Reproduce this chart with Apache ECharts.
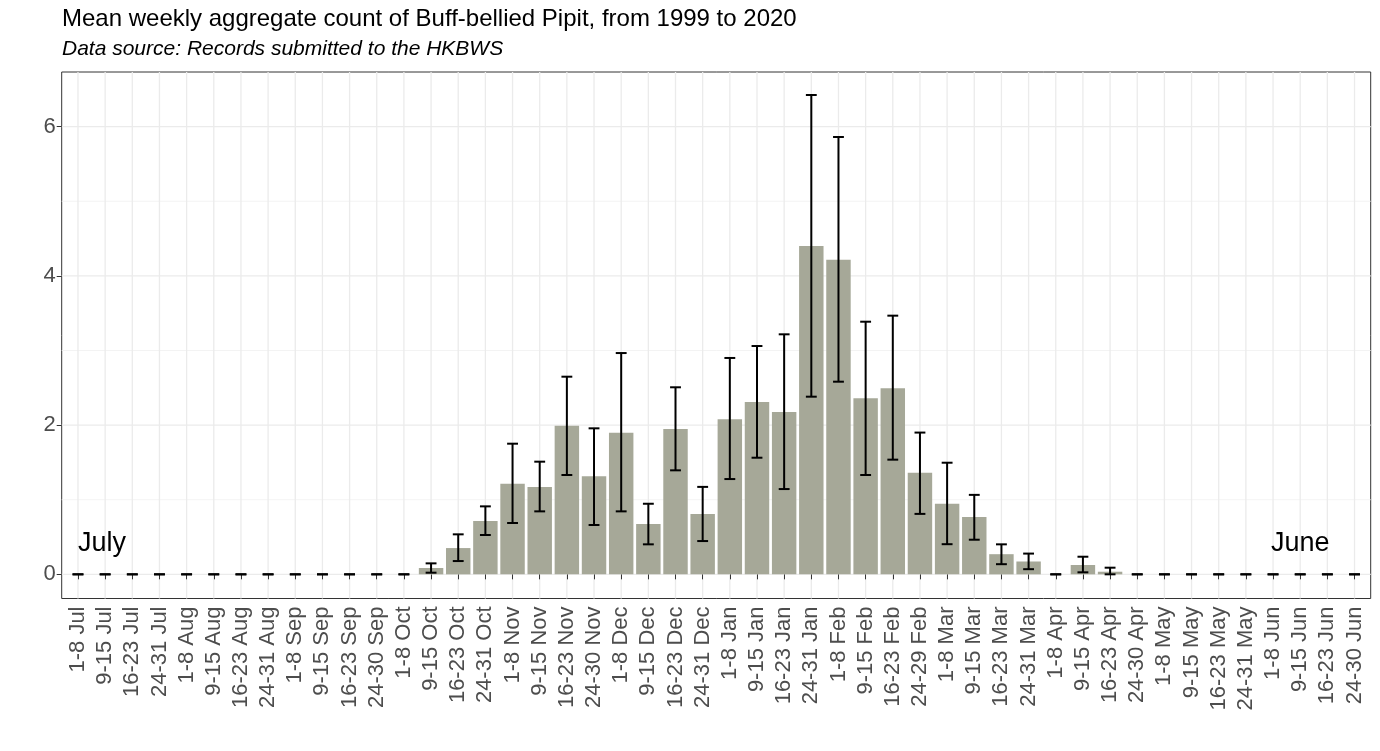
<!DOCTYPE html>
<html>
<head>
<meta charset="utf-8">
<script src="https://cdn.jsdelivr.net/npm/echarts@6/dist/echarts.min.js"></script>
<style>
html,body{margin:0;padding:0;background:#ffffff;}
#c{width:1380px;height:751px;}
</style>
</head>
<body>
<div id="c"></div>
<script>
// ---------- DATA ----------
const chartTitle = 'Mean weekly aggregate count of Buff-bellied Pipit, from 1999 to 2020';
const chartSubtitle = 'Data source: Records submitted to the HKBWS';

const categories = [
  '1-8 Jul','9-15 Jul','16-23 Jul','24-31 Jul',
  '1-8 Aug','9-15 Aug','16-23 Aug','24-31 Aug',
  '1-8 Sep','9-15 Sep','16-23 Sep','24-30 Sep',
  '1-8 Oct','9-15 Oct','16-23 Oct','24-31 Oct',
  '1-8 Nov','9-15 Nov','16-23 Nov','24-30 Nov',
  '1-8 Dec','9-15 Dec','16-23 Dec','24-31 Dec',
  '1-8 Jan','9-15 Jan','16-23 Jan','24-31 Jan',
  '1-8 Feb','9-15 Feb','16-23 Feb','24-29 Feb',
  '1-8 Mar','9-15 Mar','16-23 Mar','24-31 Mar',
  '1-8 Apr','9-15 Apr','16-23 Apr','24-30 Apr',
  '1-8 May','9-15 May','16-23 May','24-31 May',
  '1-8 Jun','9-15 Jun','16-23 Jun','24-30 Jun'
];

const meanCounts = [
  0, 0, 0, 0,
  0, 0, 0, 0,
  0, 0, 0, 0,
  0, 0.085, 0.352, 0.714,
  1.215, 1.170, 1.992, 1.313,
  1.898, 0.674, 1.948, 0.808,
  2.080, 2.310, 2.175, 4.400,
  4.217, 2.359, 2.493, 1.360,
  0.947, 0.768, 0.270, 0.172,
  0, 0.125, 0.035, 0,
  0, 0, 0, 0,
  0, 0, 0, 0
];

const lowerBounds = [
  0, 0, 0, 0,
  0, 0, 0, 0,
  0, 0, 0, 0,
  0, 0.022, 0.178, 0.527,
  0.688, 0.844, 1.331, 0.661,
  0.844, 0.402, 1.394, 0.446,
  1.277, 1.563, 1.143, 2.381,
  2.582, 1.331, 1.537, 0.810,
  0.404, 0.464, 0.136, 0.069,
  0, 0.027, 0, 0,
  0, 0, 0, 0,
  0, 0, 0, 0
];

const upperBounds = [
  0, 0, 0, 0,
  0, 0, 0, 0,
  0, 0, 0, 0,
  0, 0.147, 0.536, 0.911,
  1.751, 1.510, 2.649, 1.957,
  2.966, 0.946, 2.507, 1.172,
  2.900, 3.060, 3.217, 6.425,
  5.862, 3.386, 3.467, 1.900,
  1.496, 1.065, 0.402, 0.278,
  0, 0.236, 0.089, 0,
  0, 0, 0, 0,
  0, 0, 0, 0
];

const yMajorTicks = [0, 2, 4, 6];
const yMinorTicks = [1, 3, 5];

const annotationTexts = ['July', 'June'];
const annotationCategories = ['1-8 Jul', '9-15 Jun'];
const annotationValues = [0.41, 0.41];
const annotationAligns = ['left', 'center'];

// ---------- CHART ----------
const FONT = "'Liberation Sans', Arial, Helvetica, sans-serif";
const Y_MIN = -0.324;
const Y_MAX = 6.733;

const chart = echarts.init(document.getElementById('c'), null, { renderer: 'canvas' });

const gridLineData = yMajorTicks.map(v => [0, v, 1]).concat(yMinorTicks.map(v => [0, v, 0]));
const vGridData = categories.map((c, i) => [i]);
const errData = categories.map((c, i) => [i, lowerBounds[i], upperBounds[i]]);
const annData = annotationTexts.map((t, i) => [categories.indexOf(annotationCategories[i]), annotationValues[i], i]);

const option = {
  animation: false,
  backgroundColor: '#ffffff',
  title: [
    {
      text: chartTitle, left: 62, top: 7, padding: 0,
      textStyle: { fontFamily: FONT, fontSize: 24, fontWeight: 'normal', color: '#000000' }
    },
    {
      text: chartSubtitle, left: 62, top: 39, padding: 0,
      textStyle: { fontFamily: FONT, fontSize: 21, fontStyle: 'italic', fontWeight: 'normal', color: '#000000' }
    }
  ],
  grid: [
    { left: 64.4, right: 11.9, top: 72, bottom: 152.5, show: false, containLabel: false, outerBoundsMode: 'none' },
    { left: 61.7, right: 9.3, top: 72, bottom: 152.5, show: true, borderColor: '#333333', borderWidth: 1,
      backgroundColor: 'transparent', containLabel: false, outerBoundsMode: 'none' }
  ],
  xAxis: [
    {
      type: 'category', gridIndex: 0, data: categories, boundaryGap: true,
      axisLine: { show: false },
      axisTick: { show: true, alignWithLabel: true, length: 5, lineStyle: { color: '#333333', width: 1 } },
      axisLabel: { interval: 0, rotate: 90, margin: 8, fontSize: 22, color: '#4d4d4d', fontFamily: FONT },
      splitLine: { show: false }
    },
    { type: 'value', gridIndex: 1, min: 0, max: 1, show: false }
  ],
  yAxis: [
    { type: 'value', gridIndex: 0, min: Y_MIN, max: Y_MAX, show: false },
    {
      type: 'value', gridIndex: 1, min: Y_MIN, max: Y_MAX,
      axisLine: { show: false },
      axisTick: { show: true, length: 5, customValues: yMajorTicks, lineStyle: { color: '#333333', width: 1 } },
      axisLabel: { customValues: yMajorTicks, margin: 6, fontSize: 22, color: '#4d4d4d', fontFamily: FONT },
      splitLine: { show: false }
    }
  ],
  series: [
    {
      type: 'custom', name: 'hgrid', xAxisIndex: 1, yAxisIndex: 1, z: 0, silent: true,
      data: gridLineData, encode: { x: 0, y: 1 },
      renderItem: function (params, api) {
        const cs = params.coordSys;
        const y = api.coord([0, api.value(1)])[1];
        const major = api.value(2) === 1;
        return {
          type: 'line',
          shape: { x1: cs.x, y1: y, x2: cs.x + cs.width, y2: y },
          style: { stroke: major ? '#ebebeb' : '#f2f2f2', lineWidth: major ? 1.3 : 0.9 }
        };
      }
    },
    {
      type: 'custom', name: 'vgrid', xAxisIndex: 0, yAxisIndex: 0, z: 0, silent: true,
      data: vGridData, encode: { x: 0 },
      renderItem: function (params, api) {
        const cs = params.coordSys;
        const x = api.coord([api.value(0), 0])[0];
        return {
          type: 'line',
          shape: { x1: x, y1: cs.y, x2: x, y2: cs.y + cs.height },
          style: { stroke: '#ebebeb', lineWidth: 1.3 }
        };
      }
    },
    {
      type: 'bar', name: 'mean', xAxisIndex: 0, yAxisIndex: 0, z: 2,
      data: meanCounts, barWidth: '90%',
      itemStyle: { color: '#a6a898' }
    },
    {
      type: 'custom', name: 'errors', xAxisIndex: 0, yAxisIndex: 0, z: 3,
      data: errData, encode: { x: 0, y: [1, 2] },
      renderItem: function (params, api) {
        const idx = api.value(0);
        const x = api.coord([idx, 0])[0];
        const lo = api.coord([idx, api.value(1)])[1];
        const hi = api.coord([idx, api.value(2)])[1];
        const half = api.size([1, 0])[0] * 0.4 / 2;
        const st = { stroke: '#000000', lineWidth: 2 };
        return {
          type: 'group',
          children: [
            { type: 'line', shape: { x1: x, y1: hi, x2: x, y2: lo }, style: st },
            { type: 'line', shape: { x1: x - half, y1: hi, x2: x + half, y2: hi }, style: st },
            { type: 'line', shape: { x1: x - half, y1: lo, x2: x + half, y2: lo }, style: st }
          ]
        };
      }
    },
    {
      type: 'custom', name: 'annotations', xAxisIndex: 0, yAxisIndex: 0, z: 4, silent: true,
      data: annData, encode: { x: 0, y: 1 },
      renderItem: function (params, api) {
        const i = api.value(2);
        const p = api.coord([api.value(0), api.value(1)]);
        return {
          type: 'text', x: p[0], y: p[1],
          style: {
            text: annotationTexts[i], fill: '#000000',
            font: '27px ' + FONT,
            align: annotationAligns[i], verticalAlign: 'middle'
          }
        };
      }
    }
  ]
};

chart.setOption(option);
</script>
</body>
</html>
